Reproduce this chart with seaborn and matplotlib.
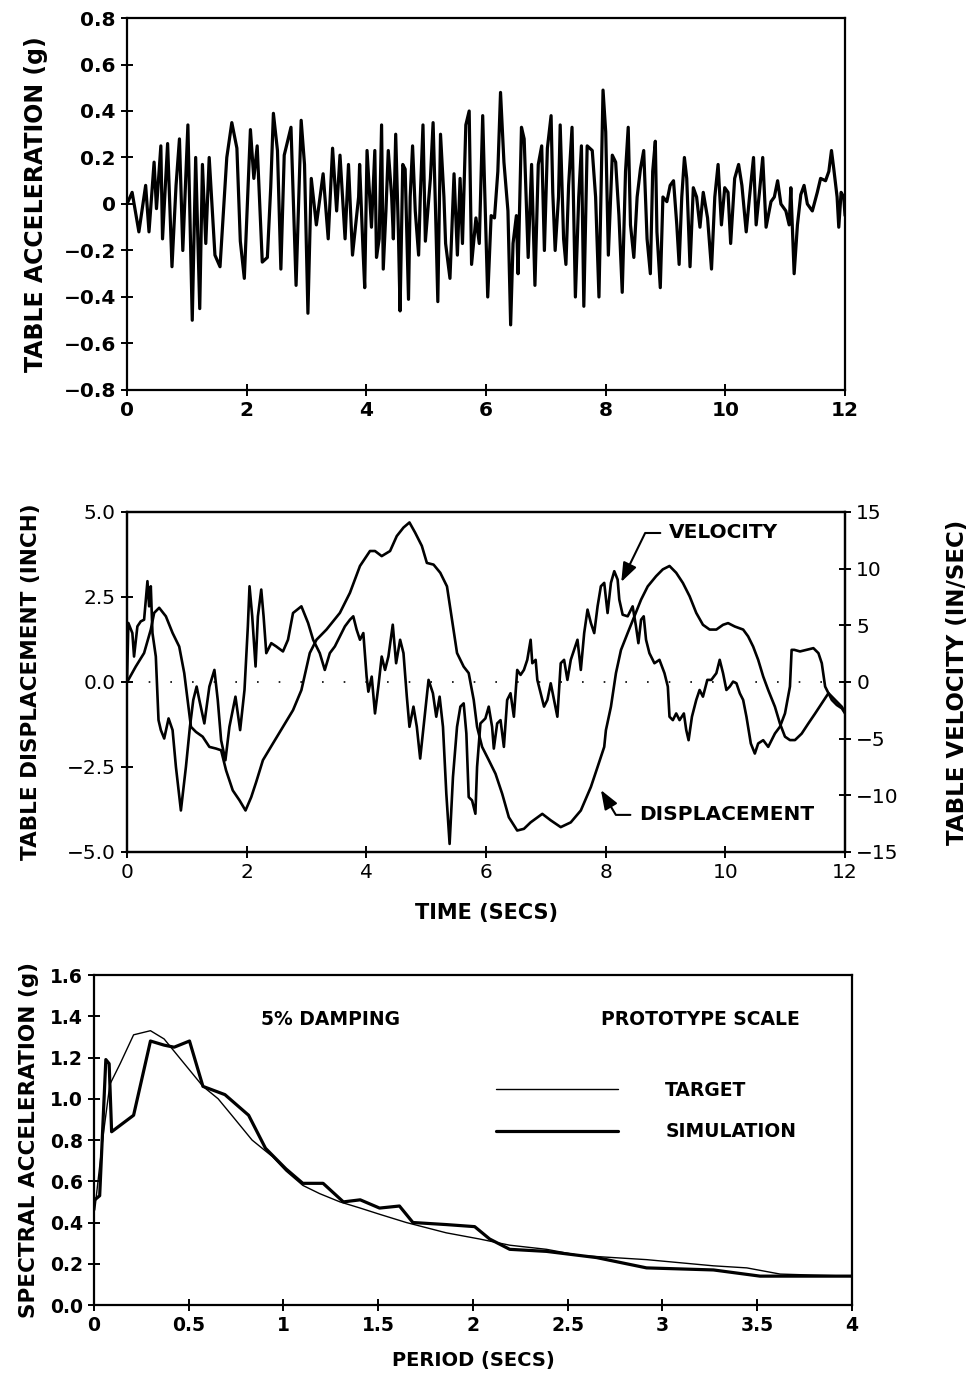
import matplotlib
matplotlib.use("Agg")
import matplotlib.pyplot as plt
import seaborn as sns
import numpy as np
import pandas as pd

# ---------------- data ----------------
# Panel 1: table acceleration time history (g)
acc_time = [0.000, 0.085, 0.198, 0.311, 0.367, 0.452, 0.492, 0.565, 0.593, 0.678, 0.751, 0.819, 0.876, 0.932,
            1.017, 1.090, 1.147, 1.215, 1.260, 1.316, 1.373, 1.469, 1.554, 1.667, 1.751, 1.836, 1.893, 1.960,
            2.062, 2.119, 2.175, 2.260, 2.345, 2.401, 2.446, 2.514, 2.571, 2.627, 2.740, 2.825, 2.910, 2.966,
            3.023, 3.079, 3.164, 3.277, 3.362, 3.435, 3.503, 3.559, 3.644, 3.701, 3.768, 3.870,
            3.887, 3.944, 3.972, 4.011, 4.085, 4.141, 4.169, 4.214, 4.254, 4.282, 4.327, 4.366, 4.423, 4.451,
            4.490, 4.535, 4.563, 4.608, 4.648, 4.704, 4.732, 4.772, 4.817, 4.873, 4.901, 4.946, 4.986, 5.070,
            5.115, 5.155, 5.194, 5.239, 5.296, 5.324, 5.397, 5.465, 5.521, 5.566, 5.606, 5.662, 5.718, 5.758,
            5.831, 5.887, 5.944, 5.972, 6.028, 6.085, 6.141, 6.197, 6.242, 6.299, 6.366, 6.411, 6.451, 6.507,
            6.535, 6.592, 6.637, 6.704, 6.761, 6.817, 6.873, 6.930, 6.975, 7.025, 7.087, 7.115, 7.155, 7.211,
            7.239, 7.296, 7.335, 7.380, 7.437, 7.493, 7.549, 7.594, 7.634, 7.690, 7.775, 7.831, 7.887, 7.955,
            8.000, 8.044, 8.110, 8.166, 8.221, 8.276, 8.331, 8.376, 8.414, 8.470, 8.525, 8.580, 8.635, 8.691,
            8.746, 8.785, 8.829, 8.856, 8.912, 8.956, 9.022, 9.077, 9.133, 9.188, 9.227, 9.271, 9.315, 9.354,
            9.409, 9.464, 9.519, 9.575, 9.630, 9.702, 9.768, 9.823, 9.878, 9.934, 9.989, 10.044, 10.088, 10.155,
            10.221, 10.276, 10.348, 10.403, 10.470, 10.514, 10.569, 10.624, 10.680, 10.762, 10.818, 10.873,
            10.928, 11.011, 11.066, 11.094, 11.149, 11.204, 11.260, 11.315, 11.370, 11.453, 11.536, 11.591,
            11.674, 11.729, 11.773, 11.812, 11.867, 11.895, 11.934, 11.978, 12.000]
acc_g = [0.00, 0.05, -0.12, 0.08, -0.12, 0.18, -0.02, 0.25, -0.15, 0.26, -0.27, 0.08, 0.28, -0.20,
         0.34, -0.50, 0.20, -0.45, 0.17, -0.17, 0.20, -0.22, -0.27, 0.20, 0.35, 0.24, -0.16, -0.32,
         0.32, 0.11, 0.25, -0.25, -0.23, 0.07, 0.39, 0.23, -0.28, 0.21, 0.33, -0.35, 0.36, 0.17,
         -0.47, 0.11, -0.09, 0.13, -0.15, 0.24, -0.03, 0.21, -0.15, 0.17, -0.22, 0.03,
         0.17, -0.20, -0.36, 0.23, -0.10, 0.23, -0.23, -0.15, 0.34, -0.28, -0.03, 0.23, 0.03, -0.15,
         0.30, -0.12, -0.46, 0.17, 0.15, -0.41, 0.03, 0.25, -0.03, -0.22, 0.03, 0.34, -0.16, 0.11,
         0.35, -0.02, -0.42, 0.30, 0.03, -0.17, -0.32, 0.13, -0.22, 0.11, -0.17, 0.34, 0.40, -0.26,
         -0.06, -0.17, 0.38, 0.11, -0.40, -0.05, -0.06, 0.14, 0.48, 0.18, -0.03, -0.52, -0.17, -0.05,
         -0.30, 0.33, 0.28, -0.23, 0.17, -0.35, 0.17, 0.25, -0.20, 0.24, 0.38, 0.05, -0.20, 0.03,
         0.34, -0.15, -0.26, 0.08, 0.33, -0.40, 0.03, 0.25, -0.44, 0.25, 0.23, 0.03, -0.40, 0.49,
         0.31, -0.22, 0.21, 0.18, -0.05, -0.38, 0.14, 0.33, -0.09, -0.23, 0.03, 0.15, 0.23, -0.15,
         -0.30, 0.14, 0.27, -0.12, -0.36, 0.03, 0.01, 0.08, 0.10, -0.09, -0.26, 0.03, 0.20, 0.11,
         -0.27, 0.07, 0.03, -0.10, 0.05, -0.06, -0.28, 0.03, 0.17, -0.09, 0.07, 0.05, -0.17, 0.11,
         0.17, 0.08, -0.12, 0.03, 0.20, -0.09, 0.05, 0.20, -0.10, 0.01, 0.03, 0.10,
         0.00, -0.03, -0.09, 0.07, -0.30, -0.09, 0.04, 0.08, 0.00, -0.03, 0.05, 0.11,
         0.10, 0.14, 0.23, 0.15, 0.03, -0.10, 0.05, 0.03, -0.05]

# Panel 2: table displacement (inch) and velocity (in/sec)
disp_time = [0.006, 0.145, 0.285, 0.397, 0.453, 0.537, 0.649, 0.761, 0.872, 0.956, 1.012, 1.068, 1.152, 1.264,
             1.376, 1.488, 1.572, 1.655, 1.767, 1.879, 1.980, 2.075, 2.159, 2.271, 2.438, 2.606, 2.774, 2.914,
             3.054, 3.166, 3.333, 3.557, 3.725, 3.893, 4.060, 4.144, 4.256, 4.396, 4.508, 4.620, 4.720, 4.815,
             4.927, 5.011, 5.123, 5.235, 5.347, 5.431, 5.515, 5.626, 5.710, 5.794, 5.850, 5.934, 6.046, 6.158,
             6.270, 6.381, 6.521, 6.633, 6.745, 6.940, 7.081, 7.248, 7.416, 7.584, 7.752, 7.864, 7.975, 8.003,
             8.087, 8.171, 8.255, 8.367, 8.479, 8.591, 8.702, 8.842, 8.954, 9.066, 9.178, 9.290, 9.402, 9.513,
             9.625, 9.737, 9.849, 9.961, 10.045, 10.157, 10.297, 10.380, 10.464, 10.548, 10.632, 10.716, 10.828,
             10.911, 10.996, 11.079, 11.163, 11.275, 11.387, 11.499, 11.611, 11.723, 11.834, 11.946, 12.000]
disp_inch = [0.01, 0.45, 0.85, 1.54, 2.03, 2.18, 1.93, 1.44, 1.04, 0.26, -0.53, -1.32, -1.47, -1.61,
             -1.91, -1.96, -2.01, -2.60, -3.19, -3.48, -3.78, -3.39, -2.94, -2.30, -1.81, -1.32, -0.83, -0.24,
             0.85, 1.24, 1.54, 2.03, 2.62, 3.41, 3.85, 3.85, 3.70, 3.85, 4.29, 4.54, 4.69, 4.39,
             4.00, 3.50, 3.45, 3.21, 2.81, 1.83, 0.85, 0.45, 0.26, -0.53, -1.32, -1.91, -2.30, -2.70,
             -3.29, -3.98, -4.37, -4.32, -4.13, -3.88, -4.07, -4.27, -4.13, -3.78, -3.09, -2.50, -1.91, -1.42,
             -0.73, 0.26, 0.94, 1.44, 1.93, 2.42, 2.81, 3.11, 3.31, 3.41, 3.21, 2.91, 2.52, 2.03,
             1.68, 1.54, 1.54, 1.68, 1.73, 1.63, 1.54, 1.34, 1.04, 0.65, 0.16, -0.24, -0.73,
             -1.22, -1.61, -1.71, -1.71, -1.52, -1.22, -0.93, -0.63, -0.33, -0.53, -0.73, -0.90]

vel_time = [0.000, 0.022, 0.089, 0.117, 0.173, 0.229, 0.285, 0.341, 0.369, 0.397, 0.425, 0.481, 0.526, 0.565,
            0.621, 0.694, 0.761, 0.817, 0.900, 0.984, 1.051, 1.107, 1.163, 1.208, 1.292, 1.376, 1.460, 1.516,
            1.572, 1.644, 1.711, 1.812, 1.890, 1.963, 2.019, 2.047, 2.092, 2.148, 2.187, 2.243, 2.282, 2.327,
            2.411, 2.494, 2.606, 2.690, 2.774, 2.914, 3.026, 3.110, 3.221, 3.305, 3.389, 3.473, 3.557, 3.641,
            3.725, 3.781, 3.837, 3.893, 3.949, 4.004, 4.033, 4.089, 4.144, 4.200, 4.256, 4.312, 4.368, 4.441,
            4.497, 4.564, 4.620, 4.676, 4.720, 4.787, 4.843, 4.899, 4.955, 5.039, 5.112, 5.168, 5.224, 5.280,
            5.336, 5.391, 5.447, 5.515, 5.571, 5.626, 5.671, 5.710, 5.766, 5.822, 5.850, 5.906, 5.989, 6.045,
            6.101, 6.130, 6.186, 6.242, 6.298, 6.353, 6.409, 6.465, 6.521, 6.577, 6.633, 6.689, 6.745, 6.773,
            6.829, 6.857, 6.913, 6.969, 7.025, 7.081, 7.136, 7.192, 7.248, 7.304, 7.360, 7.416, 7.528, 7.584,
            7.640, 7.696, 7.752, 7.808, 7.864, 7.919, 7.975, 8.031, 8.087, 8.143, 8.199, 8.227, 8.283, 8.367,
            8.450, 8.506, 8.546, 8.591, 8.635, 8.674, 8.730, 8.814, 8.898, 8.982, 9.038, 9.066, 9.122, 9.178,
            9.234, 9.306, 9.346, 9.385, 9.441, 9.513, 9.569, 9.625, 9.698, 9.765, 9.849, 9.905, 9.961, 10.017,
            10.073, 10.129, 10.185, 10.241, 10.297, 10.352, 10.425, 10.492, 10.548, 10.632, 10.716, 10.828,
            10.911, 10.996, 11.079, 11.107, 11.152, 11.247, 11.359, 11.471, 11.555, 11.611, 11.667, 11.723,
            11.779, 11.863, 11.946, 12.000]
vel_ips = [0.18, 5.20, 4.31, 2.24, 4.90, 5.34, 5.49, 8.89, 6.67, 8.44, 4.31, 2.24, -3.37, -4.25,
           -4.99, -3.22, -4.25, -7.50, -11.34, -7.50, -3.96, -1.59, -0.41, -1.59, -3.66, -0.41, 1.06, -1.59,
           -5.14, -6.91, -3.96, -1.30, -4.25, -0.71, 4.90, 8.44, 5.79, 1.36, 5.79, 8.15, 5.79, 2.54,
           3.42, 3.13, 2.69, 3.72, 6.08, 6.67, 5.20, 3.72, 2.54, 1.06, 2.54, 3.13, 4.02, 4.90,
           5.49, 5.79, 4.61, 3.72, 4.31, 0.47, -0.86, 0.47, -2.78, -0.41, 2.24, 1.06, 2.24, 5.05,
           1.65, 3.72, 2.54, -1.30, -3.96, -2.18, -3.96, -6.76, -3.96, 0.18, -1.00, -3.07, -1.30, -3.96,
           -9.86, -14.29, -8.39, -3.96, -2.18, -1.89, -4.55, -10.16, -10.45, -11.63, -7.50, -3.66, -3.22, -2.18,
           -3.96, -5.88, -3.66, -3.37, -5.73, -1.59, -1.00, -3.07, 1.06, 0.62, 1.06, 1.95, 3.72, 1.65,
           1.95, 0.18, -1.00, -2.18, -1.59, -0.12, -1.59, -3.07, 1.65, 1.95, 0.18, 1.95, 3.72, 1.06,
           4.31, 6.38, 5.20, 4.31, 6.67, 8.44, 8.74, 6.08, 8.74, 9.77, 9.03, 7.26, 5.93, 5.79,
           6.67, 4.90, 3.42, 5.49, 5.79, 3.72, 2.54, 1.65, 1.95, 0.77, -0.41, -3.07, -3.37, -2.78,
           -3.37, -2.78, -4.25, -5.14, -3.07, -1.59, -0.71, -1.30, 0.18, 0.18, 0.77, 1.95, 0.77, -0.71,
           -0.41, 0.03, -0.12, -1.00, -1.59, -3.07, -5.43, -6.32, -5.43, -5.14, -5.73, -4.55,
           -3.96, -2.78, -0.41, 2.83, 2.83, 2.69, 2.83, 2.98, 2.54, 1.65, -0.41, -1.00,
           -1.59, -2.04, -2.33, -2.78]

# Panel 3: response spectra (5% damping)
target_period = [0.004, 0.048, 0.084, 0.138, 0.209, 0.298, 0.370, 0.459, 0.575, 0.655, 0.727, 0.834, 0.941,
                 1.013, 1.102, 1.191, 1.298, 1.405, 1.507, 1.648, 1.859, 2.035, 2.194, 2.388, 2.564, 2.740,
                 2.916, 3.269, 3.445, 3.621, 3.797, 4.000]
target_sa = [0.46, 0.82, 1.07, 1.17, 1.31, 1.33, 1.29, 1.19, 1.06, 1.00, 0.92, 0.80, 0.72,
             0.65, 0.58, 0.54, 0.50, 0.47, 0.44, 0.40, 0.35, 0.32, 0.29, 0.27, 0.24, 0.23,
             0.22, 0.19, 0.18, 0.15, 0.145, 0.14]
sim_period = [0.004, 0.030, 0.0625, 0.080, 0.093, 0.209, 0.298, 0.370, 0.423, 0.504, 0.575, 0.691, 0.816,
              0.905, 1.013, 1.102, 1.209, 1.316, 1.405, 1.507, 1.612, 1.683, 1.859, 2.009, 2.088, 2.194,
              2.388, 2.652, 2.916, 3.269, 3.515, 4.000]
sim_sa = [0.51, 0.53, 1.19, 1.17, 0.84, 0.92, 1.28, 1.26, 1.25, 1.28, 1.06, 1.02, 0.92,
          0.76, 0.66, 0.59, 0.59, 0.50, 0.51, 0.47, 0.48, 0.40, 0.39, 0.38, 0.32, 0.27,
          0.26, 0.23, 0.18, 0.17, 0.14, 0.14]

# tick values / labels
time_ticks = [0, 2, 4, 6, 8, 10, 12]
time_labels = ["0", "2", "4", "6", "8", "10", "12"]
acc_ticks = [-0.8, -0.6, -0.4, -0.2, 0.0, 0.2, 0.4, 0.6, 0.8]
acc_labels = ["\u22120.8", "\u22120.6", "\u22120.4", "\u22120.2", "0", "0.2", "0.4", "0.6", "0.8"]
disp_ticks = [-5.0, -2.5, 0.0, 2.5, 5.0]
disp_labels = ["\u22125.0", "\u22122.5", "0.0", "2.5", "5.0"]
vel_ticks = [-15, -10, -5, 0, 5, 10, 15]
vel_labels = ["\u221215", "\u221210", "\u22125", "0", "5", "10", "15"]
period_ticks = [0, 0.5, 1, 1.5, 2, 2.5, 3, 3.5, 4]
period_labels = ["0", "0.5", "1", "1.5", "2", "2.5", "3", "3.5", "4"]
sa_ticks = [0.0, 0.2, 0.4, 0.6, 0.8, 1.0, 1.2, 1.4, 1.6]
sa_labels = ["0.0", "0.2", "0.4", "0.6", "0.8", "1.0", "1.2", "1.4", "1.6"]

# ---------------- style ----------------
sns.set_style("ticks")
plt.rcParams['font.family'] = ['DejaVu Sans']
plt.rcParams['axes.linewidth'] = 1.6
plt.rcParams['axes.edgecolor'] = 'black'
plt.rcParams['text.color'] = 'black'
plt.rcParams['axes.labelcolor'] = 'black'
plt.rcParams['xtick.color'] = 'black'
plt.rcParams['ytick.color'] = 'black'

fig = plt.figure(figsize=(9.72, 13.75), dpi=100)


def style_axes(ax, weight='bold', size=14):
    for s in ax.spines.values():
        s.set_visible(True)
        s.set_linewidth(1.6)
        s.set_color('black')
    ax.tick_params(axis='both', direction='inout', length=8, width=1.4, colors='black',
                   labelcolor='black', labelsize=size, pad=4)
    for lab in ax.get_xticklabels() + ax.get_yticklabels():
        lab.set_fontweight(weight)


# ---------- Panel 1 ----------
ax1 = fig.add_axes([0.1307, 0.7164, 0.7387, 0.2705])
sns.lineplot(x=acc_time, y=acc_g, ax=ax1, color='black', linewidth=2.3, sort=False, estimator=None)
ax1.set_xlim(0, 12)
ax1.set_ylim(-0.8, 0.8)
ax1.set_xticks(time_ticks)
ax1.set_xticklabels(time_labels)
ax1.set_yticks(acc_ticks)
ax1.set_yticklabels(acc_labels)
style_axes(ax1, 'bold', 14.5)
ax1.set_ylabel("TABLE ACCELERATION (g)", fontsize=17, fontweight='bold', color='black')
ax1.yaxis.set_label_coords(-0.11, 0.5)

# ---------- Panel 2 ----------
ax2 = fig.add_axes([0.1307, 0.3804, 0.7387, 0.2473])
ax2.axhline(0, color='black', linewidth=1.2, linestyle=(0, (1, 12)))
sns.lineplot(x=disp_time, y=disp_inch, ax=ax2, color='black', linewidth=1.9, sort=False, estimator=None)
ax2.set_xlim(0, 12)
ax2.set_ylim(-5, 5)
ax2.set_xticks(time_ticks)
ax2.set_xticklabels(time_labels)
ax2.set_yticks(disp_ticks)
ax2.set_yticklabels(disp_labels)
style_axes(ax2, 'normal', 14.5)
ax2.set_ylabel("TABLE DISPLACEMENT (INCH)", fontsize=15.5, fontweight='bold', color='black')
ax2.yaxis.set_label_coords(-0.12, 0.5)
ax2.set_xlabel("TIME (SECS)", fontsize=15, fontweight='bold', color='black')
ax2.xaxis.set_label_coords(0.5, -0.15)

ax2r = ax2.twinx()
sns.lineplot(x=vel_time, y=vel_ips, ax=ax2r, color='black', linewidth=1.9, sort=False, estimator=None)
ax2r.set_ylim(-15, 15)
ax2r.set_yticks(vel_ticks)
ax2r.set_yticklabels(vel_labels)
style_axes(ax2r, 'normal', 14.5)
ax2r.set_ylabel("TABLE VELOCITY (IN/SEC)", fontsize=16.5, fontweight='bold', rotation=90, color='black')
ax2r.yaxis.set_label_coords(1.14, 0.5)

ax2.annotate("VELOCITY", xy=(8.26, 2.94), xytext=(9.06, 4.38), fontsize=14.5, fontweight='bold',
             ha='left', va='center', color='black',
             arrowprops=dict(arrowstyle='-|>,head_length=0.8,head_width=0.3', color='black', lw=1.5,
                             connectionstyle="angle,angleA=0,angleB=64,rad=0", shrinkA=4, shrinkB=0))
ax2.annotate("DISPLACEMENT", xy=(7.92, -3.18), xytext=(8.56, -3.91), fontsize=14.5, fontweight='bold',
             ha='left', va='center', color='black',
             arrowprops=dict(arrowstyle='-|>,head_length=0.8,head_width=0.3', color='black', lw=1.5,
                             connectionstyle="angle,angleA=0,angleB=-59,rad=0", shrinkA=4, shrinkB=0))

# ---------- Panel 3 ----------
ax3 = fig.add_axes([0.0967, 0.0509, 0.7798, 0.24])
sns.lineplot(x=target_period, y=target_sa, ax=ax3, color='black', linewidth=1.0, sort=False,
             estimator=None, label="TARGET")
sns.lineplot(x=sim_period, y=sim_sa, ax=ax3, color='black', linewidth=2.3, sort=False,
             estimator=None, label="SIMULATION")
ax3.set_xlim(0, 4)
ax3.set_ylim(0, 1.6)
ax3.set_xticks(period_ticks)
ax3.set_xticklabels(period_labels)
ax3.set_yticks(sa_ticks)
ax3.set_yticklabels(sa_labels)
style_axes(ax3, 'bold', 13.5)
ax3.set_ylabel("SPECTRAL ACCELERATION (g)", fontsize=15.5, fontweight='bold', color='black')
ax3.yaxis.set_label_coords(-0.072, 0.5)
ax3.set_xlabel("PERIOD (SECS)", fontsize=14, fontweight='bold', color='black')
ax3.xaxis.set_label_coords(0.5, -0.14)
ax3.text(0.312, 0.864, "5% DAMPING", transform=ax3.transAxes, fontsize=13.5, fontweight='bold',
         ha='center', va='center', color='black')
ax3.text(0.80, 0.864, "PROTOTYPE SCALE", transform=ax3.transAxes, fontsize=13.5, fontweight='bold',
         ha='center', va='center', color='black')
leg = ax3.legend(loc='upper left', bbox_to_anchor=(0.531, 0.68), frameon=False, borderpad=0,
                 borderaxespad=0, handlelength=6.5, handletextpad=2.5, labelspacing=1.2,
                 prop={'weight': 'bold', 'size': 13.5})
for t in leg.get_texts():
    t.set_color('black')

fig.savefig("out.png", dpi=100, facecolor='white')
